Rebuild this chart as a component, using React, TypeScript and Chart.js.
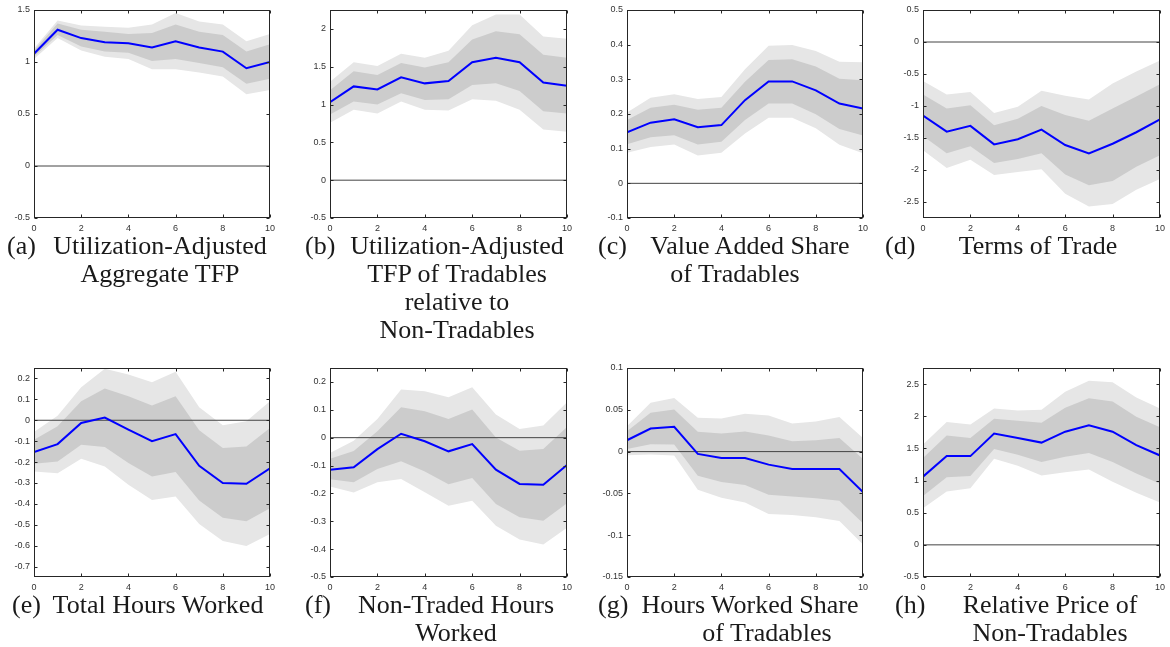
import React, { useEffect, useRef } from "react";
import { Chart, registerables } from "chart.js";

Chart.register(...registerables);

// Horizon (quarters/years after shock)
const horizon = [0, 1, 2, 3, 4, 5, 6, 7, 8, 9, 10];
const xTicks = [0, 2, 4, 6, 8, 10];

// (a) Utilization-Adjusted Aggregate TFP
const aMean = [1.08, 1.31, 1.23, 1.19, 1.18, 1.14, 1.2, 1.14, 1.1, 0.94, 1.0];
const aInnerHi = [1.11, 1.37, 1.31, 1.29, 1.27, 1.28, 1.36, 1.29, 1.26, 1.1, 1.17];
const aInnerLo = [1.05, 1.26, 1.15, 1.1, 1.09, 1.01, 1.03, 0.99, 0.95, 0.79, 0.84];
const aOuterHi = [1.13, 1.4, 1.35, 1.34, 1.33, 1.36, 1.47, 1.39, 1.36, 1.2, 1.27];
const aOuterLo = [1.03, 1.23, 1.11, 1.05, 1.03, 0.93, 0.93, 0.9, 0.86, 0.69, 0.73];
const aTicks = [-0.5, 0, 0.5, 1, 1.5];

// (b) Utilization-Adjusted TFP of Tradables relative to Non-Tradables
const bMean = [1.03, 1.24, 1.2, 1.36, 1.28, 1.31, 1.56, 1.62, 1.56, 1.29, 1.25];
const bInnerHi = [1.19, 1.44, 1.39, 1.55, 1.49, 1.56, 1.86, 1.97, 1.93, 1.66, 1.62];
const bInnerLo = [0.87, 1.04, 1.0, 1.15, 1.06, 1.07, 1.26, 1.28, 1.18, 0.91, 0.88];
const bOuterHi = [1.3, 1.56, 1.51, 1.67, 1.62, 1.71, 2.05, 2.19, 2.19, 1.9, 1.87];
const bOuterLo = [0.76, 0.93, 0.88, 1.04, 0.93, 0.92, 1.07, 1.05, 0.93, 0.67, 0.64];
const bTicks = [-0.5, 0, 0.5, 1, 1.5, 2];

// (c) Value Added Share of Tradables
const cMean = [0.147, 0.175, 0.185, 0.162, 0.168, 0.24, 0.294, 0.294, 0.268, 0.23, 0.216];
const cInnerHi = [0.183, 0.218, 0.227, 0.212, 0.218, 0.293, 0.356, 0.358, 0.337, 0.302, 0.297];
const cInnerLo = [0.113, 0.133, 0.139, 0.112, 0.12, 0.183, 0.23, 0.23, 0.199, 0.157, 0.138];
const cOuterHi = [0.204, 0.247, 0.257, 0.243, 0.249, 0.329, 0.397, 0.399, 0.382, 0.351, 0.349];
const cOuterLo = [0.088, 0.105, 0.112, 0.08, 0.088, 0.144, 0.189, 0.189, 0.159, 0.111, 0.087];
const cTicks = [-0.1, 0, 0.1, 0.2, 0.3, 0.4, 0.5];

// (d) Terms of Trade
const dMean = [-1.15, -1.4, -1.31, -1.6, -1.52, -1.37, -1.61, -1.74, -1.59, -1.41, -1.21];
const dInnerHi = [-0.82, -1.04, -0.99, -1.3, -1.2, -1.0, -1.14, -1.23, -1.04, -0.85, -0.66];
const dInnerLo = [-1.47, -1.74, -1.63, -1.89, -1.83, -1.74, -2.07, -2.24, -2.17, -1.95, -1.77];
const dOuterHi = [-0.61, -0.82, -0.78, -1.11, -1.01, -0.76, -0.84, -0.9, -0.65, -0.46, -0.29];
const dOuterLo = [-1.69, -1.97, -1.84, -2.08, -2.03, -1.99, -2.37, -2.57, -2.53, -2.31, -2.14];
const dTicks = [-2.5, -2, -1.5, -1, -0.5, 0, 0.5];

// (e) Total Hours Worked
const eMean = [-0.152, -0.114, -0.013, 0.013, -0.045, -0.1, -0.066, -0.218, -0.3, -0.304, -0.23];
const eInnerHi = [-0.093, -0.029, 0.091, 0.152, 0.115, 0.07, 0.115, -0.048, -0.133, -0.125, -0.037];
const eInnerLo = [-0.208, -0.197, -0.117, -0.128, -0.205, -0.269, -0.248, -0.384, -0.467, -0.483, -0.421];
const eOuterHi = [-0.056, 0.022, 0.158, 0.246, 0.219, 0.182, 0.232, 0.062, -0.024, -0.005, 0.091];
const eOuterLo = [-0.245, -0.253, -0.184, -0.221, -0.309, -0.381, -0.365, -0.496, -0.578, -0.602, -0.544];
const eTicks = [-0.7, -0.6, -0.5, -0.4, -0.3, -0.2, -0.1, 0, 0.1, 0.2];

// (f) Non-Traded Hours Worked
const fMean = [-0.115, -0.106, -0.041, 0.014, -0.013, -0.049, -0.023, -0.115, -0.166, -0.169, -0.098];
const fInnerHi = [-0.076, -0.048, 0.023, 0.109, 0.095, 0.067, 0.101, 0.001, -0.047, -0.041, 0.038];
const fInnerLo = [-0.149, -0.16, -0.112, -0.085, -0.121, -0.167, -0.145, -0.238, -0.286, -0.298, -0.235];
const fOuterHi = [-0.055, -0.011, 0.067, 0.173, 0.167, 0.145, 0.181, 0.083, 0.031, 0.044, 0.127];
const fOuterLo = [-0.175, -0.197, -0.16, -0.148, -0.196, -0.244, -0.226, -0.316, -0.365, -0.383, -0.323];
const fTicks = [-0.5, -0.4, -0.3, -0.2, -0.1, 0, 0.1, 0.2];

// (g) Hours Worked Share of Tradables
const gMean = [0.0136, 0.0276, 0.0296, -0.0028, -0.0076, -0.0076, -0.0156, -0.0208, -0.0208, -0.0208, -0.0485];
const gInnerHi = [0.0244, 0.0465, 0.0505, 0.0236, 0.0216, 0.024, 0.0192, 0.0124, 0.0136, 0.0164, -0.0088];
const gInnerLo = [0.0032, 0.0088, 0.0084, -0.0288, -0.0365, -0.04, -0.0517, -0.0537, -0.0557, -0.0589, -0.0857];
const gOuterHi = [0.0304, 0.0585, 0.0641, 0.0405, 0.0397, 0.0453, 0.0433, 0.0337, 0.0361, 0.0413, 0.0164];
const gOuterLo = [-0.0044, -0.0036, -0.0048, -0.0457, -0.0553, -0.0609, -0.0745, -0.0757, -0.0785, -0.0829, -0.111];
const gTicks = [-0.15, -0.1, -0.05, 0, 0.05, 0.1];

// (h) Relative Price of Non-Tradables
const hMean = [1.06, 1.38, 1.38, 1.73, 1.66, 1.59, 1.76, 1.86, 1.76, 1.55, 1.39];
const hInnerHi = [1.35, 1.7, 1.66, 1.96, 1.93, 1.9, 2.13, 2.28, 2.23, 1.99, 1.83];
const hInnerLo = [0.76, 1.05, 1.07, 1.49, 1.4, 1.29, 1.37, 1.43, 1.29, 1.11, 0.95];
const hOuterHi = [1.56, 1.91, 1.87, 2.12, 2.09, 2.1, 2.38, 2.55, 2.53, 2.29, 2.12];
const hOuterLo = [0.57, 0.83, 0.88, 1.34, 1.23, 1.08, 1.13, 1.17, 0.98, 0.81, 0.66];
const hTicks = [-0.5, 0, 0.5, 1, 1.5, 2, 2.5];

type Panel = {
  mean: number[];
  innerHi: number[];
  innerLo: number[];
  outerHi: number[];
  outerLo: number[];
  yMin: number;
  yMax: number;
  yTicks: number[];
  rect: [number, number, number, number]; // left, top, right, bottom of plot area
};

const panels: Panel[] = [
  { mean: aMean, innerHi: aInnerHi, innerLo: aInnerLo, outerHi: aOuterHi, outerLo: aOuterLo, yMin: -0.5, yMax: 1.5, yTicks: aTicks, rect: [34, 10, 270, 218] },
  { mean: bMean, innerHi: bInnerHi, innerLo: bInnerLo, outerHi: bOuterHi, outerLo: bOuterLo, yMin: -0.5, yMax: 2.25, yTicks: bTicks, rect: [330, 10, 567, 218] },
  { mean: cMean, innerHi: cInnerHi, innerLo: cInnerLo, outerHi: cOuterHi, outerLo: cOuterLo, yMin: -0.1, yMax: 0.5, yTicks: cTicks, rect: [627, 10, 863, 218] },
  { mean: dMean, innerHi: dInnerHi, innerLo: dInnerLo, outerHi: dOuterHi, outerLo: dOuterLo, yMin: -2.75, yMax: 0.5, yTicks: dTicks, rect: [923, 10, 1160, 218] },
  { mean: eMean, innerHi: eInnerHi, innerLo: eInnerLo, outerHi: eOuterHi, outerLo: eOuterLo, yMin: -0.75, yMax: 0.25, yTicks: eTicks, rect: [34, 368, 270, 577] },
  { mean: fMean, innerHi: fInnerHi, innerLo: fInnerLo, outerHi: fOuterHi, outerLo: fOuterLo, yMin: -0.5, yMax: 0.25, yTicks: fTicks, rect: [330, 368, 567, 577] },
  { mean: gMean, innerHi: gInnerHi, innerLo: gInnerLo, outerHi: gOuterHi, outerLo: gOuterLo, yMin: -0.15, yMax: 0.1, yTicks: gTicks, rect: [627, 368, 863, 577] },
  { mean: hMean, innerHi: hInnerHi, innerLo: hInnerLo, outerHi: hOuterHi, outerLo: hOuterLo, yMin: -0.5, yMax: 2.75, yTicks: hTicks, rect: [923, 368, 1160, 577] },
];

type Caption = { label: string; labelX: number; top: number; lines: string[]; centers: number[] };

const captions: Caption[] = [
  { label: "(a)", labelX: 7, top: 232, lines: ["Utilization-Adjusted", "Aggregate TFP"], centers: [160, 160] },
  { label: "(b)", labelX: 305, top: 232, lines: ["Utilization-Adjusted", "TFP of Tradables", "relative to", "Non-Tradables"], centers: [457, 457, 457, 457] },
  { label: "(c)", labelX: 598, top: 232, lines: ["Value Added Share", "of Tradables"], centers: [750, 735] },
  { label: "(d)", labelX: 885, top: 232, lines: ["Terms of Trade"], centers: [1038] },
  { label: "(e)", labelX: 12, top: 591, lines: ["Total Hours Worked"], centers: [158] },
  { label: "(f)", labelX: 305, top: 591, lines: ["Non-Traded Hours", "Worked"], centers: [456, 456] },
  { label: "(g)", labelX: 598, top: 591, lines: ["Hours Worked Share", "of Tradables"], centers: [750, 767] },
  { label: "(h)", labelX: 895, top: 591, lines: ["Relative Price of", "Non-Tradables"], centers: [1050, 1050] },
];

const PAD_L = 40;
const PAD_T = 12;
const PAD_R = 14;
const PAD_B = 22;
const AXIS_COLOR = "#262626";
const TICK_LEN = 3;

const boxPlugin = {
  id: "matlabBox",
  afterDatasetsDraw(chart: any) {
    const { ctx, chartArea, scales } = chart;
    const L = Math.round(chartArea.left) + 0.5;
    const R = Math.round(chartArea.right) - 0.5;
    const T = Math.round(chartArea.top) + 0.5;
    const B = Math.round(chartArea.bottom) - 0.5;
    ctx.save();
    ctx.strokeStyle = AXIS_COLOR;
    ctx.lineWidth = 1;
    ctx.strokeRect(L, T, R - L, B - T);
    ctx.beginPath();
    for (const t of scales.x.ticks) {
      const px = Math.round(scales.x.getPixelForValue(t.value)) + 0.5;
      ctx.moveTo(px, B);
      ctx.lineTo(px, B - TICK_LEN);
      ctx.moveTo(px, T);
      ctx.lineTo(px, T + TICK_LEN);
    }
    for (const t of scales.y.ticks) {
      const py = Math.round(scales.y.getPixelForValue(t.value)) + 0.5;
      ctx.moveTo(L, py);
      ctx.lineTo(L + TICK_LEN, py);
      ctx.moveTo(R, py);
      ctx.lineTo(R - TICK_LEN, py);
    }
    ctx.stroke();
    ctx.restore();
  },
};

const tickFont = { family: '"Liberation Sans", Arial, sans-serif', size: 9 };

function buildChart(canvas: HTMLCanvasElement, p: Panel) {
  const pts = (arr: number[]) => horizon.map((x, i) => ({ x, y: arr[i] }));
  const band = (arr: number[], color: string | undefined, fill: any) => ({
    data: pts(arr),
    borderColor: "rgba(0,0,0,0)",
    borderWidth: 0,
    pointRadius: 0,
    backgroundColor: color || "rgba(0,0,0,0)",
    fill,
  });
  return new Chart(canvas, {
    type: "line",
    data: {
      datasets: [
        { data: pts(p.mean), borderColor: "#0000ff", borderWidth: 2, pointRadius: 0, fill: false, tension: 0 },
        {
          data: [
            { x: horizon[0], y: 0 },
            { x: horizon[horizon.length - 1], y: 0 },
          ],
          borderColor: "#444444",
          borderWidth: 1,
          pointRadius: 0,
          fill: false,
        },
        band(p.innerHi, "#cccccc", "+1"),
        band(p.innerLo, undefined, false),
        band(p.outerHi, "#e6e6e6", "+1"),
        band(p.outerLo, undefined, false),
      ] as any,
    },
    options: {
      animation: false,
      responsive: false,
      maintainAspectRatio: false,
      events: [],
      layout: { padding: { left: 0, top: PAD_T, right: PAD_R, bottom: 0 } },
      plugins: { legend: { display: false }, tooltip: { enabled: false } },
      scales: {
        x: {
          type: "linear",
          min: 0,
          max: 10,
          grid: { display: false, drawTicks: false },
          border: { display: false },
          afterBuildTicks: (s: any) => {
            s.ticks = xTicks.map((v) => ({ value: v }));
          },
          afterFit: (s: any) => {
            s.height = PAD_B;
          },
          ticks: { font: tickFont, color: "#333333", padding: 5, maxRotation: 0, autoSkip: false, callback: (v: any) => String(v) },
        },
        y: {
          type: "linear",
          min: p.yMin,
          max: p.yMax,
          grid: { display: false, drawTicks: false },
          border: { display: false },
          afterBuildTicks: (s: any) => {
            s.ticks = p.yTicks.map((v) => ({ value: v }));
          },
          afterFit: (s: any) => {
            s.width = PAD_L;
          },
          ticks: { font: tickFont, color: "#333333", padding: 4, autoSkip: false, callback: (v: any) => String(v) },
        },
      },
    } as any,
    plugins: [boxPlugin],
  });
}

function PanelCanvas({ p }: { p: Panel }) {
  const ref = useRef<HTMLCanvasElement | null>(null);
  const [l, t, r, b] = p.rect;
  const w = r - l + PAD_L + PAD_R;
  const h = b - t + PAD_T + PAD_B;
  useEffect(() => {
    if (!ref.current) return;
    const chart = buildChart(ref.current, p);
    return () => chart.destroy();
  }, [p]);
  return (
    <canvas
      ref={ref}
      width={w}
      height={h}
      style={{ position: "absolute", left: l - PAD_L, top: t - PAD_T, width: w, height: h }}
    />
  );
}

const captionFont: React.CSSProperties = {
  fontFamily: '"Liberation Serif", "Times New Roman", serif',
  fontSize: 26,
  lineHeight: "28px",
  color: "#1a1a1a",
  whiteSpace: "nowrap",
  position: "absolute",
};

function CaptionBlock({ c }: { c: Caption }) {
  return (
    <>
      <div style={{ ...captionFont, left: c.labelX, top: c.top }}>{c.label}</div>
      {c.lines.map((line, i) => (
        <div
          key={i}
          style={{ ...captionFont, left: c.centers[i] - 150, width: 300, textAlign: "center", top: c.top + i * 28 }}
        >
          {line}
        </div>
      ))}
    </>
  );
}

export default function App() {
  return (
    <div style={{ position: "fixed", left: 0, top: 0, width: 1170, height: 647, background: "#ffffff", overflow: "hidden" }}>
      {panels.map((p, i) => (
        <PanelCanvas key={i} p={p} />
      ))}
      {captions.map((c, i) => (
        <CaptionBlock key={i} c={c} />
      ))}
    </div>
  );
}
